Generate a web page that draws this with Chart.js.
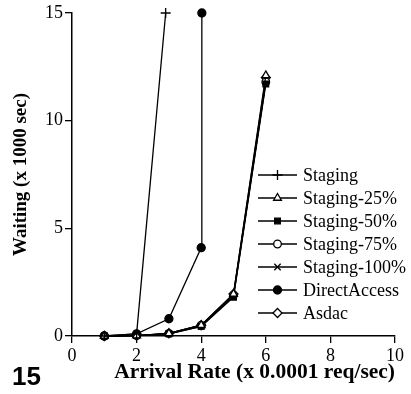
<!DOCTYPE html>
<html>
<head>
<meta charset="utf-8">
<script src="https://cdn.jsdelivr.net/npm/chart.js@4/dist/chart.umd.min.js"></script>
<style>
  html, body { margin: 0; padding: 0; background: #fff; }
  #wrap { width: 411px; height: 394px; position: relative; }
</style>
</head>
<body>
<div id="wrap"><canvas id="chart"></canvas></div>
<script>
// values
const seriesNames = ["Staging", "Staging-25%", "Staging-50%", "Staging-75%", "Staging-100%", "DirectAccess", "Asdac"];
const stagingX = [1, 2, 2.9];
const stagingY = [0, 0.1, 15];
const staging25X = [1, 2, 3, 4, 5, 6];
const staging25Y = [0, 0.02, 0.12, 0.5, 1.95, 12.1];
const staging50X = [1, 2, 3, 4, 5, 6];
const staging50Y = [0, 0.02, 0.1, 0.45, 1.8, 11.7];
const staging75X = [1, 2, 3, 4, 5, 6];
const staging75Y = [0, 0.02, 0.12, 0.5, 1.9, 11.8];
const staging100X = [1, 2, 3, 4, 5, 6];
const staging100Y = [0, 0.02, 0.1, 0.45, 1.85, 11.8];
const directX = [1, 2, 3, 4, 4.02];
const directY = [0, 0.1, 0.8, 4.1, 15];
const asdacX = [1, 2, 3, 4, 5, 6];
const asdacY = [0, 0.02, 0.12, 0.5, 1.95, 12.0];
const xTicks = [0, 2, 4, 6, 8, 10];
const yTicks = [0, 5, 10, 15];

function pts(xs, ys) {
  return xs.map((x, i) => ({ x: x, y: ys[i] }));
}

const styles = [
  { pointStyle: "cross", fill: "#000", r: 5 },
  { pointStyle: "triangle", fill: "#fff", r: 4.5 },
  { pointStyle: "rect", fill: "#000", r: 4 },
  { pointStyle: "circle", fill: "#fff", r: 3.8 },
  { pointStyle: "crossRot", fill: "#000", r: 4.5 },
  { pointStyle: "circle", fill: "#000", r: 4 },
  { pointStyle: "rectRot", fill: "#fff", r: 4.5 },
];

const allData = [
  pts(stagingX, stagingY),
  pts(staging25X, staging25Y),
  pts(staging50X, staging50Y),
  pts(staging75X, staging75Y),
  pts(staging100X, staging100Y),
  pts(directX, directY),
  pts(asdacX, asdacY),
];

const datasets = seriesNames.map((name, i) => ({
  label: name,
  data: allData[i],
  showLine: true,
  borderColor: "#000",
  borderWidth: 1.3,
  pointStyle: styles[i].pointStyle,
  pointRadius: styles[i].r,
  pointBackgroundColor: styles[i].fill,
  pointBorderColor: "#000",
  pointBorderWidth: 1.3,
  clip: false,
}));

// line+marker legend and the figure number
const legendPlugin = {
  id: "lineLegend",
  afterDraw(chart) {
    const ctx = chart.ctx;
    const area = chart.chartArea;
    const x0 = area.right - 137;
    const x1 = area.right - 98;
    const top = area.top + 162;
    const step = 23;
    ctx.save();
    chart.data.datasets.forEach((ds, i) => {
      const y = top + i * step;
      ctx.strokeStyle = "#000";
      ctx.lineWidth = 1.3;
      ctx.beginPath();
      ctx.moveTo(x0, y);
      ctx.lineTo(x1, y);
      ctx.stroke();
      ctx.fillStyle = ds.pointBackgroundColor;
      Chart.helpers.drawPoint(ctx, {
        pointStyle: ds.pointStyle,
        radius: ds.pointRadius,
        borderWidth: 1.3,
        rotation: 0,
      }, (x0 + x1) / 2, y);
      ctx.fillStyle = "#000";
      ctx.font = "18px 'Liberation Serif'";
      ctx.textBaseline = "middle";
      ctx.textAlign = "left";
      ctx.fillText(ds.label, x1 + 6, y + 1);
    });
    ctx.font = "bold 26px 'Liberation Sans'";
    ctx.textBaseline = "alphabetic";
    ctx.fillText("15", 12, 385);
    ctx.restore();
  },
};

const tickFont = { family: "'Liberation Serif'", size: 18 };

new Chart(document.getElementById("chart"), {
  type: "scatter",
  data: { datasets: datasets },
  options: {
    responsive: true,
    maintainAspectRatio: false,
    animation: false,
    layout: { padding: { top: 13, right: 16, left: 10, bottom: 0 } },
    plugins: { legend: { display: false }, tooltip: { enabled: false } },
    scales: {
      x: {
        type: "linear",
        min: 0,
        max: 10,
        afterBuildTicks: (s) => { s.ticks = xTicks.map((v) => ({ value: v })); },
        afterFit: (s) => { s.height = 58; },
        ticks: { color: "#000", font: tickFont, padding: 2 },
        grid: { drawOnChartArea: false, drawTicks: true, tickLength: 7, color: "#000", lineWidth: 1.3 },
        border: { display: true, color: "#000", width: 1.5 },
        title: { display: true, text: "Arrival Rate (x 0.0001 req/sec)", color: "#000", align: "end",
                 font: { family: "'Liberation Serif'", size: 21.5, weight: "bold" }, padding: { top: 0, bottom: 9 } },
      },
      y: {
        type: "linear",
        min: 0,
        max: 15,
        afterBuildTicks: (s) => { s.ticks = yTicks.map((v) => ({ value: v })); },
        afterFit: (s) => { s.width = 62; },
        ticks: { color: "#000", font: tickFont, padding: 2 },
        grid: { drawOnChartArea: false, drawTicks: true, tickLength: 7, color: "#000", lineWidth: 1.3 },
        border: { display: true, color: "#000", width: 1.5 },
        title: { display: true, text: "Waiting (x 1000 sec)", color: "#000",
                 font: { family: "'Liberation Serif'", size: 19, weight: "bold" }, padding: 0 },
      },
    },
  },
  plugins: [legendPlugin],
});
</script>
</body>
</html>
